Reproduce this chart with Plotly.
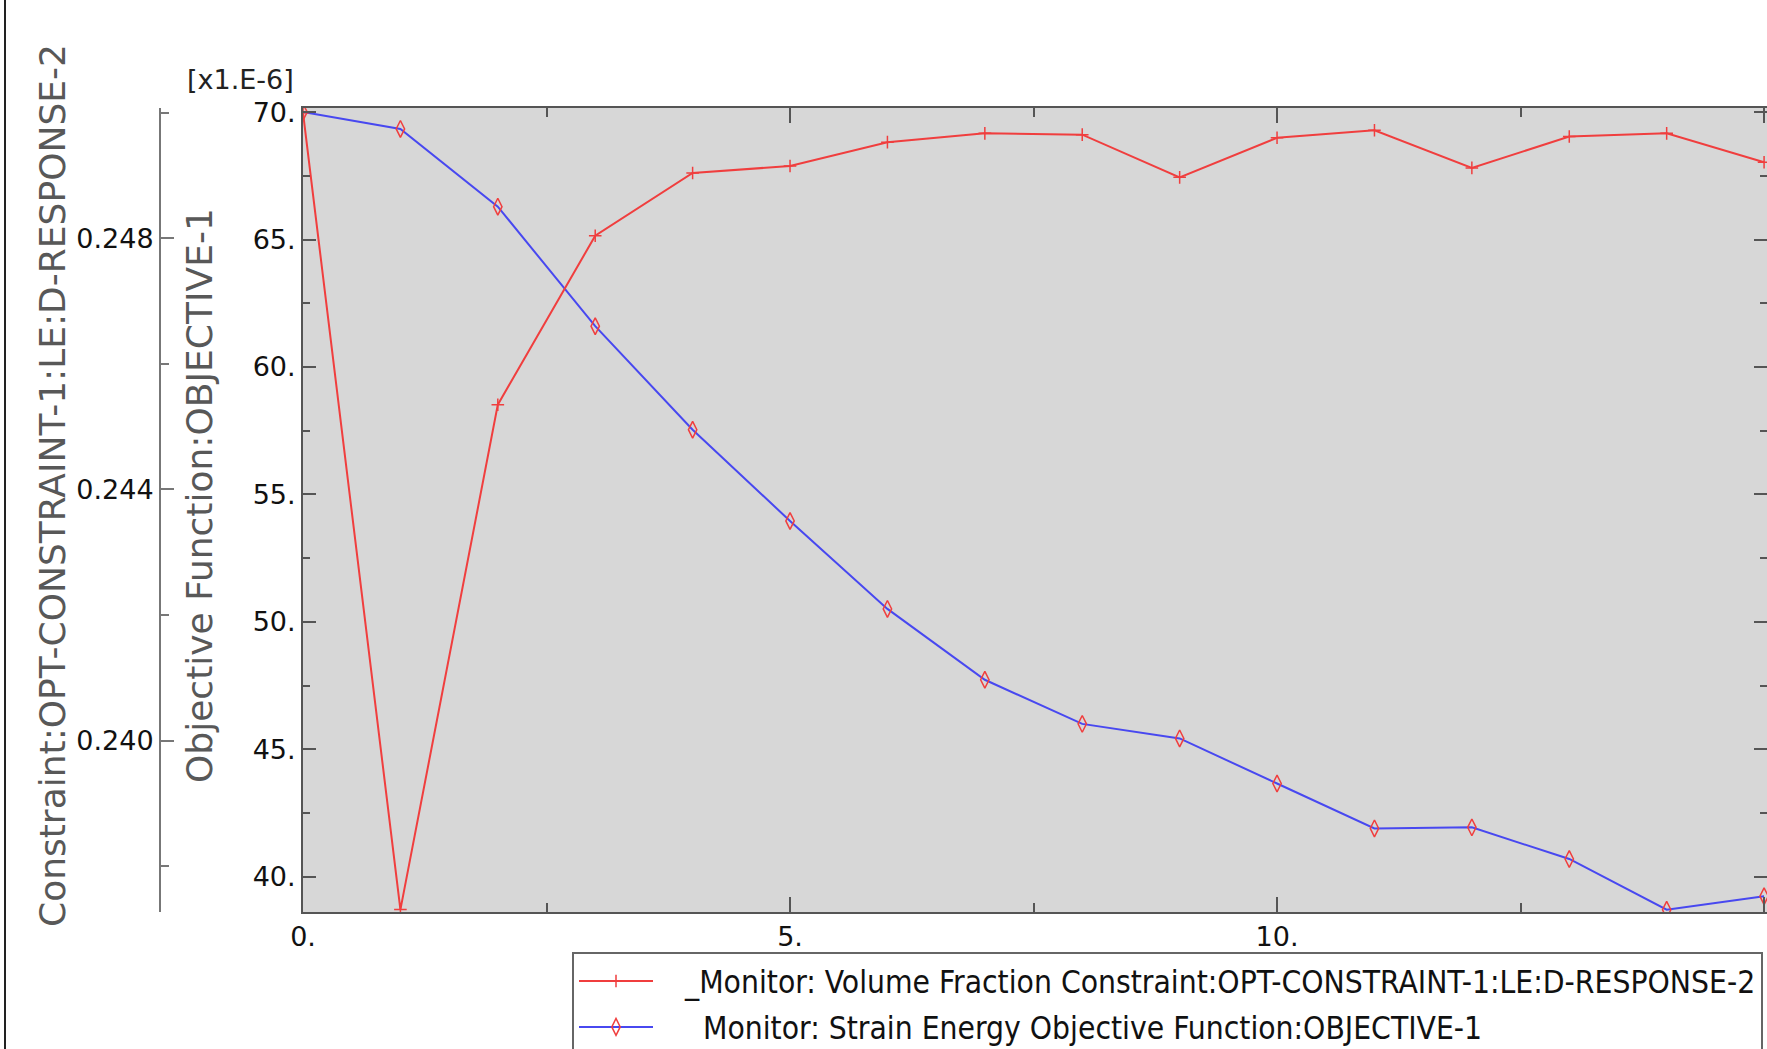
import plotly.graph_objects as go

# Data
iterations = list(range(16))
constraint_values = [0.25000, 0.23731, 0.24535, 0.24804, 0.24904, 0.24915, 0.24953, 0.24967,
                     0.24965, 0.24897, 0.24960, 0.24972, 0.24912, 0.24962, 0.24967, 0.24921]
objective_values_e6 = [70.00, 69.34, 66.29, 61.60, 57.54, 53.96, 50.51, 47.73,
                       46.00, 45.43, 43.66, 41.90, 41.94, 40.70, 38.71, 39.24]

x_ticks = [0, 5, 10, 15]
x_tick_text = ["0.", "5.", "10.", "15."]
obj_ticks = [40, 45, 50, 55, 60, 65, 70]
obj_tick_text = ["40.", "45.", "50.", "55.", "60.", "65.", "70."]
con_ticks = [0.240, 0.244, 0.248]
con_tick_text = ["0.240", "0.244", "0.248"]

name_con = "\u00a0\u00a0\u00a0_Monitor: Volume Fraction Constraint:OPT-CONSTRAINT-1:LE:D-RESPONSE-2"
name_obj = "\u00a0\u00a0\u00a0\u00a0\u00a0Monitor: Strain Energy Objective Function:OBJECTIVE-1"

W, H = 1767, 1049
L_PX, T_PX, B_PX = 303, 108, 912
PH = B_PX - T_PX

RED = "rgb(240,62,62)"
BLUE = "rgb(72,72,240)"
FONT = "DejaVu Sans, Verdana, sans-serif"

fig = go.Figure()
fig.add_trace(go.Scatter(
    x=iterations, y=constraint_values, yaxis="y2", name=name_con,
    mode="lines+markers",
    line=dict(color=RED, width=2),
    marker=dict(symbol="cross-thin", size=9, line=dict(color=RED, width=1.5), color=RED),
    legendgroup="a",
))
fig.add_trace(go.Scatter(
    x=iterations, y=objective_values_e6, yaxis="y", name=name_obj,
    mode="lines+markers",
    line=dict(color=BLUE, width=2),
    marker=dict(symbol="diamond-tall-open", size=12, line=dict(color=RED, width=1.5), color=RED),
    legendgroup="b",
))

axis_common = dict(
    showgrid=False, zeroline=False, showline=True, linecolor="#555555", linewidth=2,
    tickfont=dict(family=FONT, size=27, color="#111111"), tickcolor="#555555", tickwidth=2,
)

fig.update_layout(
    width=W, height=H,
    margin=dict(l=0, r=0, t=T_PX, b=H - B_PX, autoexpand=False),
    paper_bgcolor="white", plot_bgcolor="#d7d7d7",
    font=dict(family=FONT, size=27, color="#111111"),
    xaxis=dict(
        domain=[L_PX / W, 1], range=[0, 15.03], tickmode="array",
        tickvals=x_ticks, ticktext=x_tick_text,
        ticks="inside", ticklen=15, mirror="ticks",
        minor=dict(dtick=2.5, tick0=0, ticklen=9, ticks="inside", tickcolor="#555555", tickwidth=2),
        **axis_common,
    ),
    yaxis=dict(
        range=[38.62, 70.16], tickmode="array", tickvals=obj_ticks, ticktext=obj_tick_text,
        ticks="inside", ticklen=13, mirror="ticks", anchor="x",
        minor=dict(dtick=2.5, tick0=0, ticklen=7, ticks="inside", tickcolor="#555555", tickwidth=2),
        **axis_common,
    ),
    yaxis2=dict(
        overlaying="y", anchor="free", position=160 / W, side="left",
        range=[0.237272, 0.250074], tickmode="array", tickvals=con_ticks, ticktext=con_tick_text,
        ticks="inside", ticklen=13,
        minor=dict(dtick=0.002, tick0=0.240, ticklen=8, ticks="inside", tickcolor="#777777", tickwidth=2),
        showgrid=False, zeroline=False, showline=True, linecolor="#777777", linewidth=2,
        tickfont=dict(family=FONT, size=27, color="#111111"), tickcolor="#777777", tickwidth=2,
    ),
    legend=dict(
        x=572 / W, xanchor="left", y=(B_PX - 952) / PH, yanchor="top",
        bgcolor="white", bordercolor="#666666", borderwidth=2,
        font=dict(family="DejaVu Sans Condensed, DejaVu Sans, sans-serif", size=31.5, color="#111111"),
        itemwidth=74, traceorder="grouped", tracegroupgap=2,
    ),
    showlegend=True,
)

fig.add_annotation(
    text="Constraint:OPT-CONSTRAINT-1:LE:D-RESPONSE-2", textangle=-90,
    xref="paper", yref="paper", x=52 / W, y=(B_PX - 486) / PH,
    xanchor="center", yanchor="middle", showarrow=False,
    font=dict(family=FONT, size=36, color="#585858"),
)
fig.add_annotation(
    text="Objective Function:OBJECTIVE-1", textangle=-90,
    xref="paper", yref="paper", x=199 / W, y=(B_PX - 496) / PH,
    xanchor="center", yanchor="middle", showarrow=False,
    font=dict(family=FONT, size=36, color="#585858"),
)
fig.add_annotation(
    text="[x1.E-6]",
    xref="paper", yref="paper", x=240 / W, y=(B_PX - 79) / PH,
    xanchor="center", yanchor="middle", showarrow=False,
    font=dict(family=FONT, size=27, color="#222222"),
)
fig.add_shape(
    type="line", xref="paper", yref="paper",
    x0=5 / W, x1=5 / W, y0=-(H - B_PX) / PH, y1=B_PX / PH,
    line=dict(color="#222222", width=2),
)

fig.write_html(
    "out.html",
    config={"displayModeBar": False},
    post_script="document.body.style.margin='0';document.body.style.overflow='hidden';",
)
